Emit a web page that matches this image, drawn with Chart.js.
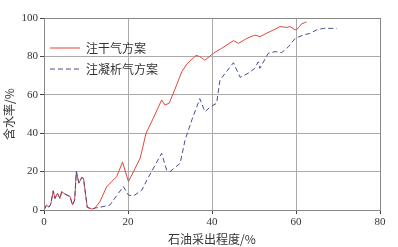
<!DOCTYPE html>
<html>
<head>
<meta charset="utf-8">
<script src="https://cdn.jsdelivr.net/npm/chart.js@4"></script>
<style>
  html, body { margin: 0; padding: 0; background: #fff; }
  #wrap { width: 398px; height: 247px; }
</style>
</head>
<body>
<div id="wrap"><canvas id="chart-water"></canvas></div>
<script>
const seriesNames = ['注干气方案', '注凝析气方案']

// 开头一段两条曲线重合
const startX = [0, 0.6, 1.2, 1.6, 2.2, 2.6, 3.2, 3.8, 4.2, 5, 6.2, 6.8, 7.3, 7.7, 8.3, 9, 9.4, 10.3, 11.4, 12.1]
const startY = [0, 2.6, 1.5, 3, 10, 6, 8.7, 6, 9.5, 8.3, 7, 2.6, 5.2, 20, 14, 17, 16.5, 1.4, 0.5, 1]

const dryX = [13.3, 14.9, 16.1, 17.3, 18.7, 20.1, 21.3, 22.9, 24.3, 26, 28, 28.8, 29.8, 31.2, 32.8, 34, 36.2, 37, 38.3, 40.3, 42.3, 45.1, 46.3, 48.3, 50.2, 51.4, 53.8, 56.2, 57.8, 58.6, 59.8, 60.5, 60.8, 61.3, 62.1, 62.5]
const dryY = [4.3, 12, 14.8, 17.3, 25, 14.8, 20, 27, 40, 47.7, 57.3, 54.7, 55.6, 63, 72, 76, 80.5, 80, 78, 81.6, 84.2, 88.2, 86.8, 89.4, 91.1, 90.3, 92.9, 95.5, 95.1, 95.5, 93.8, 94.6, 95.5, 96.9, 97.6, 98]

const condX = [13.5, 15.7, 17.7, 18.9, 20.1, 21.3, 23.3, 24.5, 28, 29.2, 30, 32.4, 33.6, 35.2, 37.1, 38.3, 39.7, 41.1, 41.9, 45.1, 46.7, 48.6, 50.2, 51, 51.4, 53.4, 55, 56.6, 58.2, 59.8, 61.7, 63.3, 64.9, 66.5, 69.7]
const condY = [1.5, 2.6, 8.7, 12.2, 7.8, 7.3, 10.4, 15.6, 29.5, 20.8, 20, 24.3, 36.5, 46.9, 58, 51.2, 53.8, 55.6, 67.7, 76.7, 69.1, 71.2, 73.8, 77.2, 73.8, 81.6, 82.5, 82, 85, 89.4, 91.1, 92, 93.8, 94.6, 94.6]

const xTicks = [0, 20, 40, 60, 80]
const yTicks = [0, 20, 40, 60, 80, 100]

function toPoints(xs, ys) {
    return xs.map((x, i) => ({ x: x, y: ys[i] }))
}

const serif = "'Liberation Serif', 'DejaVu Serif', serif"
const cjk = "'Noto Sans CJK SC', 'Liberation Serif', serif"

// 图例画在绘图区内左上
const innerLegend = {
    id: 'innerLegend',
    afterDraw(chart) {
        const ctx = chart.ctx
        const a = chart.chartArea
        ctx.save()
        ctx.strokeStyle = '#888'
        ctx.lineWidth = 1
        ctx.setLineDash([])
        ctx.strokeRect(a.left + 0.5, a.top + 0.5, a.right - a.left, a.bottom - a.top)
        chart.data.datasets.forEach((ds, i) => {
            const y = a.top + 30 + i * 21
            ctx.strokeStyle = ds.borderColor
            ctx.lineWidth = 1
            ctx.setLineDash(ds.borderDash || [])
            ctx.beginPath()
            ctx.moveTo(a.left + 6, y)
            ctx.lineTo(a.left + 36, y)
            ctx.stroke()
            ctx.setLineDash([])
            ctx.fillStyle = '#333'
            ctx.font = '12px ' + cjk
            ctx.textBaseline = 'middle'
            ctx.fillText(ds.label, a.left + 42, y)
        })
        ctx.restore()
    }
}

const data = {
    datasets: [
        {
            label: seriesNames[0],
            data: toPoints(startX.concat(dryX), startY.concat(dryY)),
            borderColor: '#e5453b',
            borderWidth: 1,
            pointRadius: 0,
            showLine: true,
            tension: 0,
            order: 1
        },
        {
            label: seriesNames[1],
            data: toPoints(startX.concat(condX), startY.concat(condY)),
            borderColor: '#44508c',
            borderWidth: 1,
            borderDash: [5, 3],
            pointRadius: 0,
            showLine: true,
            tension: 0,
            order: 0
        }
    ]
}

const gridStyle = {
    color: '#aaa',
    borderDash: [1, 2],
    tickColor: '#444',
    tickBorderDash: [],
    tickLength: 4
}

const options = {
    responsive: true,
    maintainAspectRatio: false,
    animation: false,
    layout: { padding: { top: 18, right: 18, left: 2, bottom: 0 } },
    plugins: {
        legend: { display: false },
        tooltip: { enabled: false }
    },
    scales: {
        x: {
            type: 'linear',
            min: 0,
            max: 80,
            afterBuildTicks: s => { s.ticks = xTicks.map(v => ({ value: v })) },
            afterFit: s => { s.height = 37 },
            grid: gridStyle,
            border: { color: '#888' },
            ticks: { color: '#333', font: { family: serif, size: 11 }, padding: 2 },
            title: { display: true, text: '石油采出程度/%', color: '#333', font: { family: cjk, size: 12 }, padding: { top: 0, bottom: 0 } }
        },
        y: {
            type: 'linear',
            min: 0,
            max: 100,
            afterBuildTicks: s => { s.ticks = yTicks.map(v => ({ value: v })) },
            afterFit: s => { s.width = 42 },
            grid: gridStyle,
            border: { color: '#888' },
            ticks: { color: '#333', font: { family: serif, size: 11 }, padding: 2 },
            title: { display: true, text: '含水率/%', color: '#333', font: { family: cjk, size: 12 }, padding: { top: 0, bottom: 0 } }
        }
    }
}

new Chart('chart-water', { type: 'scatter', data, options, plugins: [innerLegend] })
</script>
</body>
</html>
